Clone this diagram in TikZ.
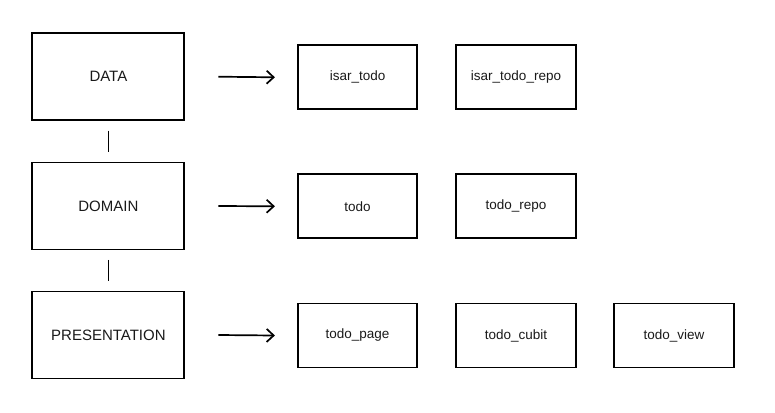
\documentclass[tikz,border=0pt]{standalone}
\usepackage{fontspec}
\setmainfont{Liberation Sans}
\usetikzlibrary{arrows.meta,positioning}

\begin{document}
\begin{tikzpicture}[
  x=1pt, y=-1pt,
  layer/.style={rectangle, draw, line width=1.9pt, minimum width=152pt, minimum height=87pt, text centered, font=\fontsize{15}{18}\selectfont, text=black!90},
  part/.style={rectangle, draw, line width=1.9pt, minimum width=119.5pt, minimum height=64pt, text centered, font=\fontsize{13.5}{16}\selectfont, text=black!90},
  arrow/.style={-{Straight Barb[length=7pt,width=13pt]}, line width=1.7pt},
  link/.style={line width=1pt}
]
  \useasboundingbox (0,0) rectangle (775,412);

  \node[layer] (data) at (108.4,76.7) {DATA};
  \node[layer] (domain) at (108.4,206) {DOMAIN};
  \node[layer] (presentation) at (108.4,335) {PRESENTATION};

  \node[part] (isartodo) at (357.6,77.3) {isar\_todo};
  \node[part] (isartodorepo) at (516,77.3) {isar\_todo\_repo};
  \node[part] (todo) at (357.6,206.3) {todo};
  \node[part] (todorepo) at (516,206.3) {todo\_repo};
  \node[part] (todopage) at (357.6,335.5) {todo\_page};
  \node[part] (todocubit) at (516,335.5) {todo\_cubit};
  \node[part] (todoview) at (674,335.5) {todo\_view};

  \draw[link] ([yshift=-9.5pt]data.south) -- ([yshift=9.5pt]domain.north);
  \draw[link] ([yshift=-9.5pt]domain.south) -- ([yshift=9.5pt]presentation.north);

  \draw[arrow] ([xshift=33pt]data.east) -- ([xshift=-22pt]isartodo.west);
  \draw[arrow] ([xshift=33pt]domain.east) -- ([xshift=-22pt]todo.west);
  \draw[arrow] ([xshift=33pt]presentation.east) -- ([xshift=-22pt]todopage.west);
\end{tikzpicture}
\end{document}
